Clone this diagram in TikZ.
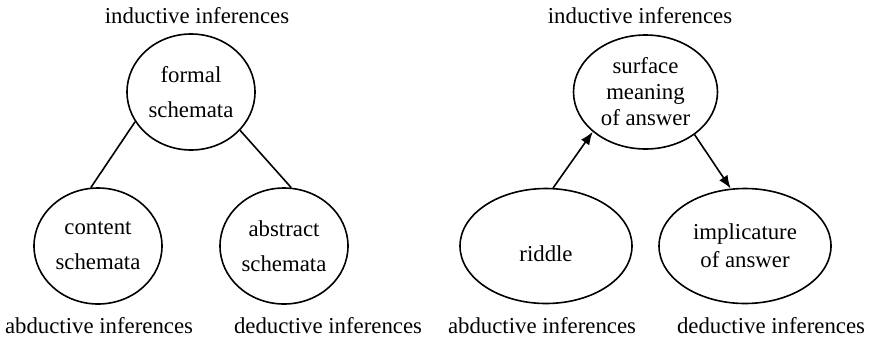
\documentclass[tikz,border=0pt]{standalone}
\usepackage{fontspec}
\setmainfont{Liberation Serif}
\usepackage{tikz}
\usetikzlibrary{shapes,arrows.meta}

\begin{document}
\begin{tikzpicture}[x=0.5pt,y=-0.5pt,level distance=77pt,
  every node/.style={font=\fontsize{11.4}{13}\selectfont},
  schema/.style={draw,ellipse,line width=0.8pt,inner sep=0pt,align=center,
    minimum width=64pt,minimum height=58pt,font=\fontsize{11.4}{17.5}\selectfont},
  answer/.style={draw,ellipse,line width=0.8pt,inner sep=0pt,align=center,
    minimum width=86pt,minimum height=57.5pt},
  tag/.style={inner sep=0pt},
  edge from parent/.style={draw,line width=0.8pt},
  >={Latex[length=6.5pt,width=5pt]}]
\useasboundingbox (0,0) rectangle (871,338);

% schemata
\begin{scope}[sibling distance=93pt]
\node[schema] (formal) at (191,92) {formal\\schemata}
  child[edge from parent path={(\tikzparentnode.208) -- (\tikzchildnode.97)}] {node[schema] (content) {content\\schemata}}
  child[edge from parent path={(\tikzparentnode.322) -- (\tikzchildnode.83)}] {node[schema] (abstract) {abstract\\schemata}};
\end{scope}
\node[tag] (ind1) at (197,16) {inductive inferences};
\node[tag] (abd1) at (99,326) {abductive inferences};
\node[tag] (ded1) at (328,326) {deductive inferences};

% riddle
\begin{scope}[sibling distance=99.5pt]
\node[answer,minimum width=72pt,minimum height=57pt] (surface) at (645.5,92) {surface\\meaning\\of answer}
  child[edge from parent path={(\tikzparentnode.217) -- (\tikzchildnode.83)}] {node[answer] (riddle) {\raisebox{-4pt}[7.8pt][0pt]{riddle}} edge from parent[<-]}
  child[edge from parent path={(\tikzparentnode.319) -- (\tikzchildnode.104)}] {node[answer,font=\fontsize{11.4}{14}\selectfont] (implicature) {implicature\\of answer} edge from parent[->]};
\end{scope}
\node[tag] (ind2) at (640,16) {inductive inferences};
\node[tag] (abd2) at (542,326) {abductive inferences};
\node[tag] (ded2) at (771,326) {deductive inferences};
\end{tikzpicture}
\end{document}
